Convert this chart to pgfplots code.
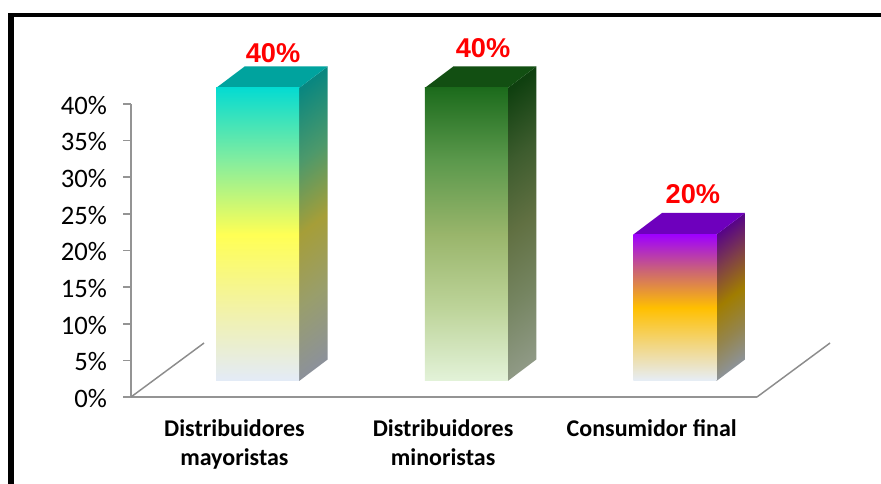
\documentclass[border=0pt]{standalone}
\usepackage{fontspec}
\setmainfont{Carlito}
\setsansfont{Liberation Sans}
\usepackage{pgfplots}
\pgfplotsset{compat=1.18}

% Colour ramps: front faces run top to bottom through five stops,
% side faces carry the same ramp in a darker tone.
\pgfdeclareverticalshading{cyanfront}{100bp}{
  rgb(0bp)=(0.89,0.92,0.97); rgb(25bp)=(0.89,0.92,0.97);
  rgb(37.5bp)=(0.95,0.95,0.65); rgb(50bp)=(1,1,0.33);
  rgb(62.5bp)=(0.52,0.93,0.62); rgb(75bp)=(0.02,0.86,0.82); rgb(100bp)=(0.02,0.86,0.82)}
\pgfdeclareverticalshading{cyanside}{100bp}{
  rgb(0bp)=(0.55,0.57,0.60); rgb(20bp)=(0.55,0.57,0.60);
  rgb(35bp)=(0.60,0.62,0.42); rgb(50bp)=(0.65,0.62,0.22);
  rgb(65bp)=(0.30,0.60,0.42); rgb(80bp)=(0.04,0.53,0.50); rgb(100bp)=(0.04,0.53,0.50)}
\pgfdeclareverticalshading{greenfront}{100bp}{
  rgb(0bp)=(0.89,0.95,0.85); rgb(25bp)=(0.89,0.95,0.85);
  rgb(37.5bp)=(0.74,0.83,0.60); rgb(50bp)=(0.60,0.71,0.42);
  rgb(62.5bp)=(0.36,0.60,0.30); rgb(75bp)=(0.11,0.42,0.11); rgb(100bp)=(0.11,0.42,0.11)}
\pgfdeclareverticalshading{greenside}{100bp}{
  rgb(0bp)=(0.56,0.60,0.52); rgb(20bp)=(0.56,0.60,0.52);
  rgb(35bp)=(0.46,0.52,0.38); rgb(50bp)=(0.38,0.44,0.26);
  rgb(65bp)=(0.24,0.36,0.18); rgb(80bp)=(0.06,0.25,0.06); rgb(100bp)=(0.06,0.25,0.06)}
\pgfdeclareverticalshading{purplefront}{100bp}{
  rgb(0bp)=(0.90,0.93,0.97); rgb(25bp)=(0.90,0.93,0.97);
  rgb(37.5bp)=(0.95,0.84,0.50); rgb(50bp)=(1,0.75,0);
  rgb(62.5bp)=(0.80,0.40,0.45); rgb(75bp)=(0.62,0,1); rgb(100bp)=(0.62,0,1)}
\pgfdeclareverticalshading{purpleside}{100bp}{
  rgb(0bp)=(0.55,0.58,0.62); rgb(22bp)=(0.55,0.58,0.62);
  rgb(36bp)=(0.58,0.52,0.30); rgb(50bp)=(0.63,0.49,0);
  rgb(64bp)=(0.50,0.25,0.28); rgb(78bp)=(0.33,0,0.55); rgb(100bp)=(0.33,0,0.55)}

\begin{document}
\begin{tikzpicture}[x=1pt,y=1pt]
  \useasboundingbox (0,0) rectangle (660.75,363);
  % Heavy rules along the top and the left of the page
  \fill[black] (6,0) rectangle (10.5,353);
  \fill[black] (6,350) rectangle (660.75,353);

  \begin{axis}[
    at={(98.25pt,65.25pt)}, anchor=south west,
    scale only axis, width=469.5pt, height=219.75pt,
    clip=false,
    xmin=-0.5, xmax=2.5, ymin=0, ymax=40,
    axis x line*=bottom, axis y line*=left,
    axis line style={draw=black!42,line width=1.5pt,-},
    xtick={0,1,2},
    xticklabels={Distribuidores\\mayoristas,Distribuidores\\minoristas,Consumidor final},
    x tick label style={font=\fontsize{18}{21.8}\selectfont\bfseries,align=center,anchor=north,yshift=-7.5pt,xshift=-0.7pt,text=black},
    x tick style={draw=none},
    ytick={0,5,...,40},
    yticklabel={\pgfmathprintnumber{\tick}\%},
    /pgf/number format/assume math mode=true,
    y tick label style={font=\fontsize{20}{24}\selectfont,text=black,anchor=east,xshift=-8.5pt,yshift=-1pt},
    y tick style={draw=black!42,line width=1.2pt},
    major tick length=6pt,
    tick align=outside,
  ]
    % Back edges of the floor
    \addplot[forget plot,draw=black!45,line width=1.1pt] coordinates {(-0.5,0) (-0.15,7.37)};
    \addplot[forget plot,draw=black!45,line width=1.1pt] coordinates {(2.5,0) (2.85,7.37)};

    % Bar 1: side, top, front
    \addplot[forget plot,draw=none,shading=cyanside,shading angle=37,xshift=16.7pt,yshift=12pt]
      coordinates {(0.199,0) (0.3356,2.935) (0.3356,42.935) (0.199,40)} -- cycle;
    \addplot[forget plot,draw=none,fill={rgb,1:red,0.0;green,0.64;blue,0.62},xshift=16.7pt,yshift=12pt]
      coordinates {(-0.199,40) (0.199,40) (0.3356,42.935) (-0.0624,42.935)} -- cycle;
    \addplot[forget plot,ybar,bar width=62.25pt,draw=none,shading=cyanfront,xshift=16.7pt,yshift=12pt,
      nodes near coords={\pgfmathprintnumber{\pgfplotspointmeta}\%},point meta=y,
      every node near coord/.append style={font=\fontsize{20.4}{24}\selectfont\sffamily\bfseries,text=red,anchor=center,xshift=11.6pt,yshift=26pt}]
      coordinates {(0,40)};

    % Bar 2
    \addplot[forget plot,draw=none,shading=greenside,shading angle=37,xshift=16.7pt,yshift=12pt]
      coordinates {(1.199,0) (1.3356,2.935) (1.3356,42.935) (1.199,40)} -- cycle;
    \addplot[forget plot,draw=none,fill={rgb,1:red,0.07;green,0.31;blue,0.07},xshift=16.7pt,yshift=12pt]
      coordinates {(0.801,40) (1.199,40) (1.3356,42.935) (0.9376,42.935)} -- cycle;
    \addplot[forget plot,ybar,bar width=62.25pt,draw=none,shading=greenfront,xshift=16.7pt,yshift=12pt,
      nodes near coords={\pgfmathprintnumber{\pgfplotspointmeta}\%},point meta=y,
      every node near coord/.append style={font=\fontsize{20.4}{24}\selectfont\sffamily\bfseries,text=red,anchor=center,xshift=12.6pt,yshift=30pt}]
      coordinates {(1,40)};

    % Bar 3
    \addplot[forget plot,draw=none,shading=purpleside,shading angle=37,xshift=16.7pt,yshift=12pt]
      coordinates {(2.199,0) (2.3356,2.935) (2.3356,22.935) (2.199,20)} -- cycle;
    \addplot[forget plot,draw=none,fill={rgb,1:red,0.43;green,0;blue,0.74},xshift=16.7pt,yshift=12pt]
      coordinates {(1.801,20) (2.199,20) (2.3356,22.935) (1.9376,22.935)} -- cycle;
    \addplot[forget plot,ybar,bar width=62.25pt,draw=none,shading=purplefront,xshift=16.7pt,yshift=12pt,
      nodes near coords={\pgfmathprintnumber{\pgfplotspointmeta}\%},point meta=y,
      every node near coord/.append style={font=\fontsize{20.4}{24}\selectfont\sffamily\bfseries,text=red,anchor=center,xshift=13.5pt,yshift=30pt}]
      coordinates {(2,20)};
  \end{axis}
\end{tikzpicture}
\end{document}
